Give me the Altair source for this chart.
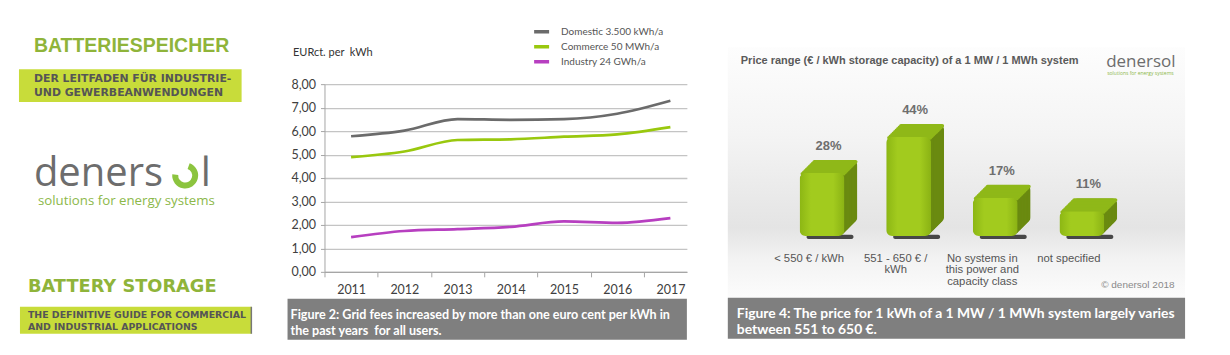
import altair as alt
import pandas as pd

# ---------------- data ----------------
years = [2011, 2012, 2013, 2014, 2015, 2016, 2017]
domestic = [5.78, 6.02, 6.51, 6.48, 6.51, 6.74, 7.29]
commerce = [4.89, 5.13, 5.62, 5.65, 5.76, 5.86, 6.17]
industry = [1.48, 1.74, 1.82, 1.92, 2.15, 2.09, 2.29]
series_names = ["Domestic 3.500 kWh/a", "Commerce 50 MWh/a", "Industry 24 GWh/a"]
series_colors = ["#6b6b6b", "#99c80e", "#b73fc0"]
y_ticks = [0, 1, 2, 3, 4, 5, 6, 7, 8]
year_bounds = [2010.5, 2011.5, 2012.5, 2013.5, 2014.5, 2015.5, 2016.5]

price_cats = ["< 550 € / kWh", "551 - 650 € / kWh",
              "No systems in this power and capacity class", "not specified"]
price_labels = ["< 550 € / kWh", "551 - 650 € /|kWh",
                "No systems in|this power and|capacity class", "not specified"]
price_shares = [28, 44, 17, 11]
price_pct = ["28%", "44%", "17%", "11%"]

# ---------------- tables ----------------
line_df = pd.DataFrame({
    "year": years * 3,
    "value": domestic + commerce + industry,
    "series": [n for n in series_names for _ in years],
})
bar_df = pd.DataFrame({"cat": price_cats, "share": price_shares,
                       "label": price_labels, "pct": price_pct})
one = pd.DataFrame({"k": [0]})
base = alt.Chart(one)

H = 355
ARIAL = "Liberation Sans"
CAL = "Lato"
NB = "\u00a0"


def txt(text, x, y, size, color, font=ARIAL, weight="normal", align="left", baseline="middle"):
    return base.mark_text(text=text, font=font, fontSize=size, fontWeight=weight, color=color,
                          align=align, baseline=baseline).encode(
        x=alt.value(x), y=alt.value(y))


def box(x, x2, y, y2, color):
    return base.mark_rect(color=color).encode(
        x=alt.value(x), x2=alt.value(x2), y=alt.value(y), y2=alt.value(y2))


# ---------------- left panel ----------------
green_txt = "#8fb43a"
lime = "#c8dc3a"
left = alt.layer(
    txt("BATTERIESPEICHER", 33, 45, 19.5, green_txt, weight="bold"),
    box(18, 241, 68, 101, lime),
    txt("DER LEITFADEN FÜR INDUSTRIE-", 33, 78, 10.9, "#555555", font="DejaVu Sans", weight="bold"),
    txt("UND GEWERBEANWENDUNGEN", 33, 92, 10.9, "#555555", font="DejaVu Sans", weight="bold"),
    base.mark_text(text="deners", font="Open Sans", fontSize=40, color="#6d6d6d",
                   align="left", baseline="alphabetic").encode(x=alt.value(33), y=alt.value(185)),
    base.mark_arc(innerRadius=7, outerRadius=13, theta=0.35, theta2=4.8, color="#8cc43f").encode(
        x=alt.value(184.5), y=alt.value(174.5)),
    base.mark_text(text="l", font="Open Sans", fontSize=40, color="#6d6d6d",
                   align="left", baseline="alphabetic").encode(x=alt.value(200), y=alt.value(185)),
    txt("solutions for energy systems", 37, 200, 13.3, "#8cb84a", font="Open Sans"),
    txt("BATTERY STORAGE", 27, 286, 17.8, green_txt, font="DejaVu Sans", weight="bold"),
    box(19, 251, 306, 333, lime),
    box(250, 251.5, 306, 333, "#777777"),
    txt("THE DEFINITIVE GUIDE FOR COMMERCIAL", 27, 314, 9.4, "#555555", font="DejaVu Sans", weight="bold"),
    txt("AND INDUSTRIAL APPLICATIONS", 27, 326, 9.4, "#555555", font="DejaVu Sans", weight="bold"),
).properties(width=324, height=H)

# ---------------- middle panel: line chart ----------------
lines = alt.Chart(line_df).mark_line(strokeWidth=2.7, interpolate="monotone").encode(
    x=alt.X("year:Q",
            scale=alt.Scale(domain=[2010.5, 2017.31], nice=False, zero=False),
            axis=alt.Axis(values=year_bounds, labelExpr="datum.value + 0.5", labelOffset=26.7,
                          labelFlush=False, labelOverlap=False, labelBound=False,
                          offset=-84, grid=False, title=None, domainColor="#a6a6a6",
                          tickColor="#a6a6a6", tickSize=5, labelFont=CAL, labelFontSize=12.5,
                          labelColor="#404040", labelPadding=7, domainWidth=1.2)),
    y=alt.Y("value:Q",
            scale=alt.Scale(domain=[0, 8], range=[271, 83], nice=False),
            axis=alt.Axis(values=y_ticks,
                          labelExpr="replace(format(datum.value, '.2f'), '.', ',')",
                          gridColor="#c4c4c4", gridWidth=1.3, domainColor="#a6a6a6",
                          tickColor="#a6a6a6", tickSize=4, labelFont=CAL, labelFontSize=12.5,
                          labelColor="#404040", labelPadding=5,
                          title="EURct. per" + NB + " kWh", titleAngle=0, titleX=-32, titleY=51,
                          titleAlign="left", titleBaseline="middle", titleFont=CAL,
                          titleFontSize=11, titleFontWeight="normal", titleColor="#333333")),
    color=alt.Color("series:N", scale=alt.Scale(domain=series_names, range=series_colors),
                    legend=alt.Legend(orient="none", legendX=532, legendY=24, title=None,
                                      symbolType="stroke", symbolStrokeWidth=3.5, symbolSize=225,
                                      clipHeight=13,
                                      labelFont=CAL, labelFontSize=10, labelColor="#555555",
                                      rowPadding=2, labelOffset=10)),
)
mid = alt.layer(
    lines,
    box(-37, 363, 298, 339, "#7f7f7f"),
    txt("Figure 2: Grid fees increased by more than one euro cent per kWh in", -34, 314, 12.6,
        "white", font=CAL, weight="bold"),
    txt("the past years" + NB + " for all users.", -34, 330, 12.6, "white", font=CAL, weight="bold"),
).properties(width=363, height=H)

# ---------------- right panel: 3D-like bar chart ----------------
bg_grad = alt.LinearGradient(gradient="linear", x1=0, x2=0, y1=0, y2=1, stops=[
    alt.GradientStop(offset=0, color="#fdfdfd"),
    alt.GradientStop(offset=0.35, color="#f4f4f4"),
    alt.GradientStop(offset=0.72, color="#e4e4e4"),
    alt.GradientStop(offset=0.85, color="#f3f3f3"),
    alt.GradientStop(offset=1, color="#fcfcfc")])
front_grad = alt.LinearGradient(gradient="linear", x1=0, x2=1, y1=0, y2=0, stops=[
    alt.GradientStop(offset=0, color="#8cb614"),
    alt.GradientStop(offset=0.25, color="#a2cb1e"),
    alt.GradientStop(offset=0.75, color="#a2cb1e"),
    alt.GradientStop(offset=1, color="#8ab214")])

xb = alt.X("cat:N", sort=price_cats, axis=None,
           scale=alt.Scale(range=[92, 439], paddingInner=0, paddingOuter=0))


def yscale(shift):
    return alt.Scale(domain=[0, 50], range=[235 + shift, 122.5 + shift])


yb = alt.Y("share:Q", axis=None, scale=yscale(0))

bars_src = alt.Chart(bar_df)
shadow = bars_src.mark_bar(width=47, color="#2a2a2a", opacity=0.85, xOffset=8,
                           cornerRadius=2).encode(
    x=xb, y=alt.Y(datum=0, scale=yscale(3), axis=None), y2=alt.Y2(datum=1.8))

depth_steps = [13, 11.5, 10, 8.5, 7, 5.5, 4, 2.5, 1]
side_layers = [
    bars_src.mark_bar(width=45, cornerRadius=6, color="#6a8a10", xOffset=k).encode(
        x=xb, y=alt.Y("share:Q", axis=None, scale=yscale(-k)))
    for k in depth_steps
]
top_layers = [
    bars_src.transform_calculate(top_lo="datum.share - 1.6").mark_bar(
        width=45, cornerRadius=3, color="#8fb818", xOffset=k).encode(
        x=xb, y=alt.Y("share:Q", axis=None, scale=yscale(-k)), y2=alt.Y2("top_lo:Q"))
    for k in depth_steps
]
front = bars_src.mark_bar(width=45, cornerRadius=6, fill=front_grad).encode(x=xb, y=yb)
pct = bars_src.mark_text(dy=-27, dx=6.5, font=ARIAL, fontWeight="bold", fontSize=13,
                         color="#6e6e6e").encode(x=xb, y=yb, text="pct:N")
cat_txt = bars_src.mark_text(lineBreak="|", baseline="top", dx=-13, font=ARIAL, fontSize=11.3,
                             color="#555555", lineHeight=11.5).encode(
    x=xb, y=alt.value(252), text="label:N")

right = alt.layer(
    base.mark_rect(fill=bg_grad).encode(x=alt.value(41), x2=alt.value(499),
                                        y=alt.value(46), y2=alt.value(297)),
    txt("Price range (€ / kWh storage capacity) of a 1 MW / 1 MWh system", 54, 60, 11,
        "#5a5a5a", weight="bold"),
    txt("denersol", 420, 61, 17, "#6d6d6d", font="Open Sans"),
    txt("solutions for energy systems", 421, 72, 5, "#8cb84a", font="Open Sans"),
    shadow, *side_layers, *top_layers, front, pct, cat_txt,
    txt("© denersol 2018", 415, 284, 10, "#8a8a8a"),
    box(41, 499, 297, 338, "#7f7f7f"),
    txt("Figure 4: The price for 1 kWh of a 1 MW / 1 MWh system largely varies", 50, 313, 13.9,
        "white", font=CAL, weight="bold"),
    txt("between 551 to 650 €.", 50, 329, 13.9, "white", font=CAL, weight="bold"),
).resolve_scale(y="independent").properties(width=543, height=H)

chart = alt.hconcat(left, mid, right, spacing=0, bounds="flush").properties(
    padding=0, background="white"
).configure_view(stroke="transparent")

chart.save("out.html", embed_options={"renderer": "svg", "actions": False})
